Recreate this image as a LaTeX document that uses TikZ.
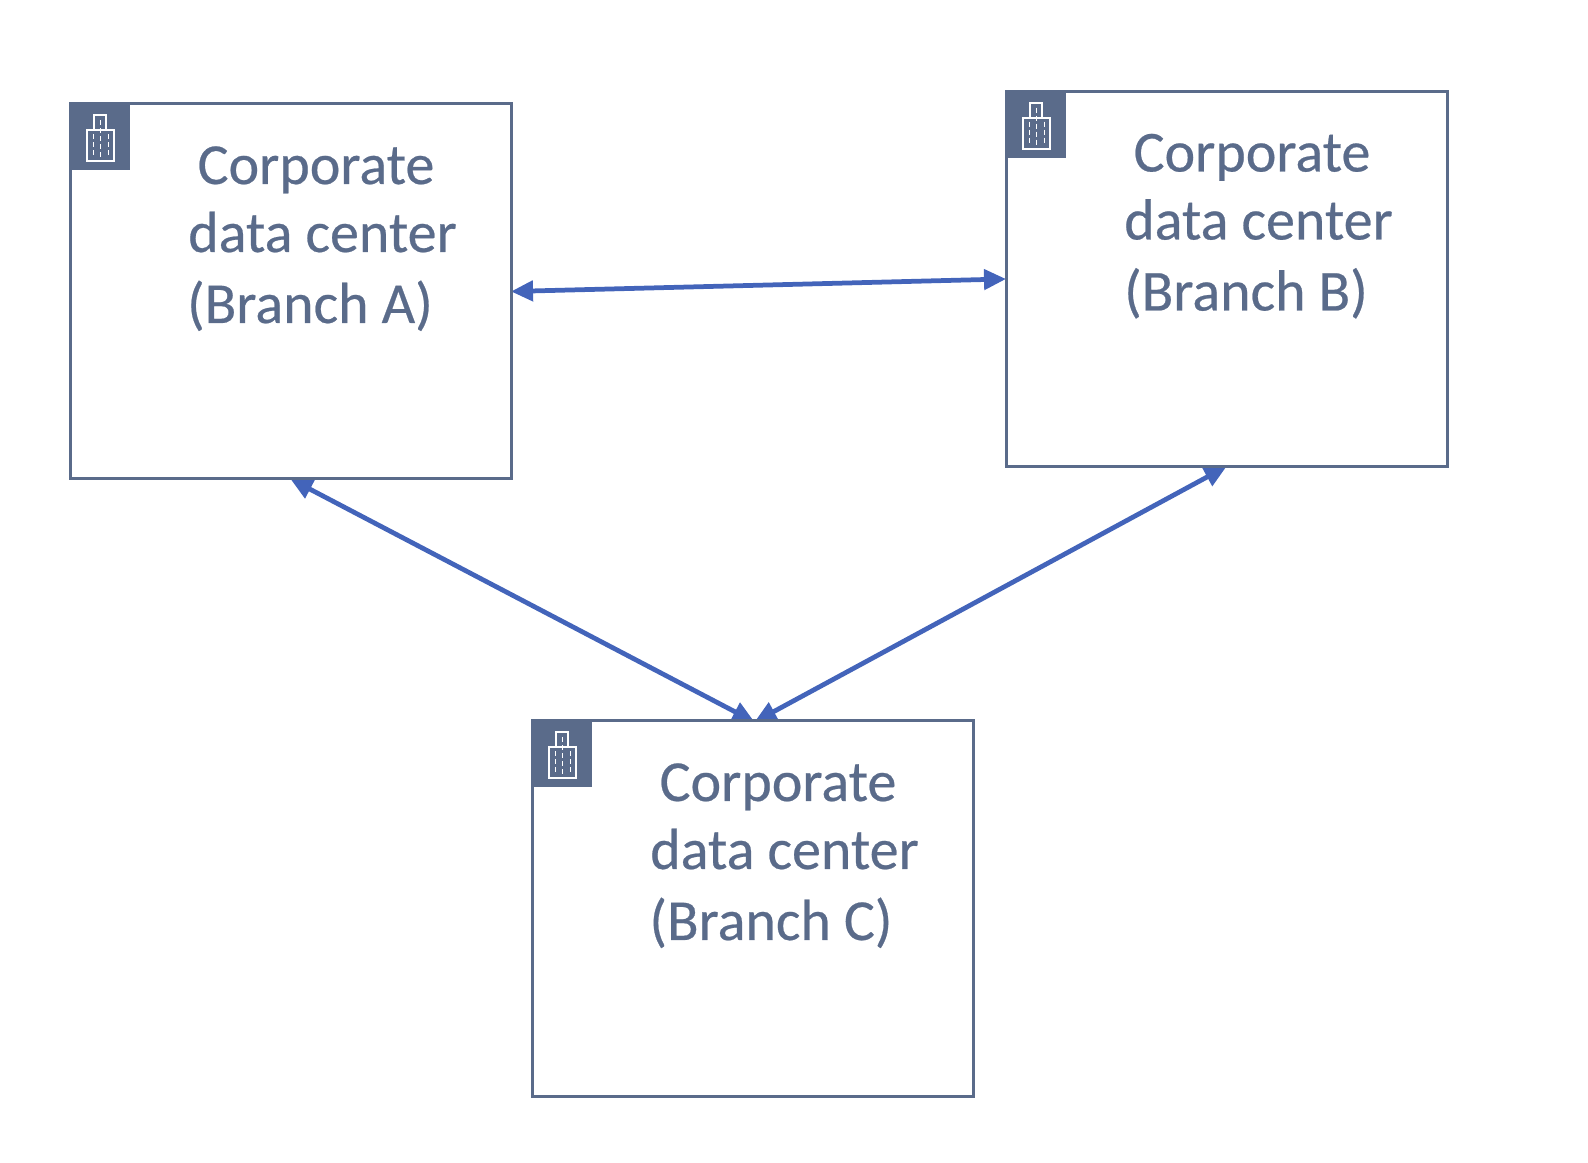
\documentclass[tikz,border=0pt]{standalone}
\usepackage{fontspec}
\setmainfont{Carlito}
\newfontfamily\sitefont{Carlito}[FakeBold=.4]
\usetikzlibrary{calc}
\usetikzlibrary{arrows.meta}
\usetikzlibrary{backgrounds}
\definecolor{slategray}{HTML}{5A6B8A}
\definecolor{linkblue}{HTML}{4364BA}
\tikzset{
  sitebox/.style={draw=slategray, line width=.06cm, fill=white, minimum width=8.82cm, minimum height=7.5cm, inner sep=0, outer sep=0},
  iconbox/.style={fill=slategray, minimum width=1.19cm, minimum height=1.33cm, inner sep=0, outer sep=0, anchor=north west},
  sitetext/.style={text=slategray, font=\sitefont\fontsize{33}{38}\selectfont, anchor=base, inner sep=0},
  sitelink/.style={draw=linkblue, line width=.095cm, {Triangle[length=.44cm,width=.4cm]}-{Triangle[length=.44cm,width=.4cm]}},
  pics/buildingicon/.style={code={
    \draw[white, line width=.034cm] (-.26,-.48) rectangle (.28,.14);
    \draw[white, line width=.034cm] (-.11,.14) -- (-.11,.44) -- (.12,.44) -- (.12,.14);
    \draw[white, line width=.028cm, dash pattern=on .1cm off .06cm] (-.13,.06) -- (-.13,-.42);
    \draw[white, line width=.028cm, dash pattern=on .1cm off .06cm] (.02,.34) -- (.02,-.42);
    \draw[white, line width=.028cm, dash pattern=on .1cm off .06cm] (.17,.06) -- (.17,-.42);
  }}
}
\begin{document}
\begin{tikzpicture}
\useasboundingbox (0,0) rectangle (31.76,23.24);
\node[sitebox] (branchA) at (5.81,17.41) {};
\node[sitebox] (branchB) at (24.53,17.66) {};
\node[sitebox] (branchC) at (15.05,5.07) {};
\coordinate (meetC) at ($(branchC.north)+(.04,-.02)$);

\node[iconbox] (iconA) at (branchA.north west) {};
\node[iconbox] (iconB) at (branchB.north west) {};
\node[iconbox] (iconC) at (branchC.north west) {};
\pic at (iconA.center) {buildingicon};
\pic at (iconB.center) {buildingicon};
\pic at (iconC.center) {buildingicon};

\node[sitetext] (textA1) at ($(branchA.north west)+(4.92,-1.6)$) {Corporate};
\node[sitetext] (textA2) at ($(branchA.north west)+(5.05,-2.96)$) {data center};
\node[sitetext] (textA3) at ($(branchA.north west)+(4.80,-4.38)$) {(Branch A)};
\node[sitetext] (textB1) at ($(branchB.north west)+(4.92,-1.6)$) {Corporate};
\node[sitetext] (textB2) at ($(branchB.north west)+(5.05,-2.96)$) {data center};
\node[sitetext] (textB3) at ($(branchB.north west)+(4.80,-4.38)$) {(Branch B)};
\node[sitetext] (textC1) at ($(branchC.north west)+(4.92,-1.6)$) {Corporate};
\node[sitetext] (textC2) at ($(branchC.north west)+(5.05,-2.96)$) {data center};
\node[sitetext] (textC3) at ($(branchC.north west)+(4.78,-4.38)$) {(Branch C)};

\begin{scope}[on background layer]
\draw[sitelink] (branchA.east) -- (branchB.west);
\draw[sitelink] (branchA.south) -- (meetC);
\draw[sitelink] (branchB.south) -- (meetC);
\end{scope}
\end{tikzpicture}
\end{document}
